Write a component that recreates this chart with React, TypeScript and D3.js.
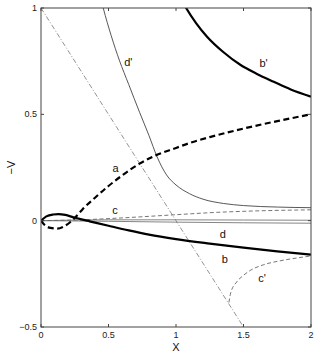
import React from "react";
import * as d3 from "d3";

type Pt = [number, number];

// curves, [x, -v]
const curveA: Pt[] = [
  [0, 0], [0.03, -0.022], [0.07, -0.034], [0.12, -0.037], [0.17, -0.027],
  [0.22, -0.005], [0.26, 0.02], [0.31, 0.055], [0.4, 0.108], [0.5, 0.163],
  [0.6, 0.212], [0.73, 0.268], [0.85, 0.307], [1.0, 0.342], [1.1, 0.365],
  [1.25, 0.393], [1.5, 0.433], [1.75, 0.468], [2.0, 0.5],
];
const curveB: Pt[] = [
  [0, 0], [0.04, 0.02], [0.09, 0.029], [0.13, 0.031], [0.18, 0.027],
  [0.24, 0.016], [0.3, 0.006], [0.36, -0.003], [0.5, -0.024], [0.65, -0.046],
  [0.8, -0.066], [1.0, -0.087], [1.25, -0.108], [1.5, -0.127], [1.75, -0.144],
  [2.0, -0.16],
];
const curveBp: Pt[] = [
  [1.04, 1.04], [1.075, 1.0], [1.15, 0.928], [1.23, 0.865], [1.35, 0.793],
  [1.476, 0.733], [1.6, 0.69], [1.724, 0.653], [1.85, 0.617], [2.0, 0.583],
];
const curveDp: Pt[] = [
  [0.445, 1.04], [0.461, 1.0], [0.52, 0.87], [0.58, 0.755], [0.65, 0.64],
  [0.73, 0.51], [0.8, 0.4], [0.86, 0.3], [0.93, 0.215], [1.0, 0.168],
  [1.1, 0.127], [1.2, 0.101], [1.35, 0.081], [1.5, 0.071], [1.75, 0.064],
  [2.0, 0.061],
];
const curveC: Pt[] = [
  [0, 0], [0.3, 0.004], [0.6, 0.013], [1.0, 0.028], [1.3, 0.039],
  [1.6, 0.046], [2.0, 0.051],
];
const curveCp: Pt[] = [
  [1.392, -0.385], [1.405, -0.34], [1.45, -0.288], [1.5, -0.257],
  [1.55, -0.234], [1.65, -0.207], [1.77, -0.189], [1.9, -0.175], [2.0, -0.166],
];
const curveD1: Pt[] = [[0, 0], [0.5, 0.004], [1.0, 0.004], [1.5, 0.003], [2.0, 0.002]];
const curveD2: Pt[] = [[0, 0], [0.5, -0.003], [1.0, -0.007], [1.5, -0.01], [2.0, -0.012]];
const lineBound: Pt[] = [[0, 1], [1.5, -0.5]];

const xTicks = [0, 0.5, 1, 1.5, 2];
const xTickLabels = ["0", "0.5", "1", "1.5", "2"];
const yTicks = [-0.5, 0, 0.5, 1];
const yTickLabels = ["\u22120.5", "0", "0.5", "1"];

const labels: { text: string; x: number; v: number }[] = [
  { text: "a", x: 0.553, v: 0.247 },
  { text: "c", x: 0.548, v: 0.05 },
  { text: "d'", x: 0.647, v: 0.748 },
  { text: "b'", x: 1.649, v: 0.74 },
  { text: "d", x: 1.346, v: -0.061 },
  { text: "b", x: 1.361, v: -0.178 },
  { text: "c'", x: 1.637, v: -0.268 },
];

const W = 317;
const H = 356;
const left = 41, right = 311, top = 8, bottom = 327;

export default function App() {
  const x = d3.scaleLinear().domain([0, 2]).range([left, right]);
  const y = d3.scaleLinear().domain([-0.5, 1]).range([bottom, top]);
  const line = d3
    .line<Pt>()
    .x(d => x(d[0]))
    .y(d => y(d[1]))
    .curve(d3.curveMonotoneX);
  const straight = d3.line<Pt>().x(d => x(d[0])).y(d => y(d[1]));
  const font = "Liberation Sans, Arial, Helvetica, sans-serif";
  const axisColor = "#444";

  return (
    <svg
      width={W}
      height={H}
      style={{ position: "absolute", left: 0, top: 0, background: "#fff" }}
      fontFamily={font}
    >
      <defs>
        <clipPath id="plot">
          <rect x={left} y={top} width={right - left} height={bottom - top} />
        </clipPath>
      </defs>
      <rect x={0} y={0} width={W} height={H} fill="#fff" />
      <g clipPath="url(#plot)" fill="none">
        <path d={straight(lineBound) ?? ""} stroke="#777" strokeWidth={0.8} strokeDasharray="5 2 1 2" />
        <path d={line(curveD1) ?? ""} stroke="#777" strokeWidth={0.9} />
        <path d={line(curveD2) ?? ""} stroke="#777" strokeWidth={0.9} />
        <path d={line(curveC) ?? ""} stroke="#666" strokeWidth={0.9} strokeDasharray="4 2.5" />
        <path d={line(curveCp) ?? ""} stroke="#666" strokeWidth={0.9} strokeDasharray="4 2.5" />
        <path d={line(curveDp) ?? ""} stroke="#444" strokeWidth={0.9} />
        <path d={line(curveA) ?? ""} stroke="#000" strokeWidth={2.2} strokeDasharray="6 3.5" />
        <path d={line(curveB) ?? ""} stroke="#000" strokeWidth={2.2} />
        <path d={line(curveBp) ?? ""} stroke="#000" strokeWidth={2.2} />
      </g>

      {/* frame and ticks */}
      <rect x={left} y={top} width={right - left} height={bottom - top} fill="none" stroke={axisColor} strokeWidth={1} />
      {xTicks.map((t, i) => (
        <g key={"x" + i}>
          <line x1={x(t)} x2={x(t)} y1={bottom} y2={bottom - 3} stroke={axisColor} />
          <line x1={x(t)} x2={x(t)} y1={top} y2={top + 3} stroke={axisColor} />
          <text x={x(t)} y={bottom + 11} fontSize={9} textAnchor="middle" fill="#222">
            {xTickLabels[i]}
          </text>
        </g>
      ))}
      {yTicks.map((t, i) => (
        <g key={"y" + i}>
          <line x1={left} x2={left + 3} y1={y(t)} y2={y(t)} stroke={axisColor} />
          <line x1={right} x2={right - 3} y1={y(t)} y2={y(t)} stroke={axisColor} />
          <text x={left - 4} y={y(t) + 3} fontSize={9} textAnchor="end" fill="#222">
            {yTickLabels[i]}
          </text>
        </g>
      ))}

      {labels.map((l, i) => (
        <text key={"l" + i} x={x(l.x)} y={y(l.v) + 4} fontSize={11} textAnchor="middle" fill="#111">
          {l.text}
        </text>
      ))}

      <text x={(left + right) / 2} y={351} fontSize={11} textAnchor="middle" fill="#111">
        X
      </text>
      <text
        transform={`translate(15,${(top + bottom) / 2}) rotate(-90)`}
        fontSize={11}
        textAnchor="middle"
        fill="#111"
      >
        {"\u2212V"}
      </text>
    </svg>
  );
}
